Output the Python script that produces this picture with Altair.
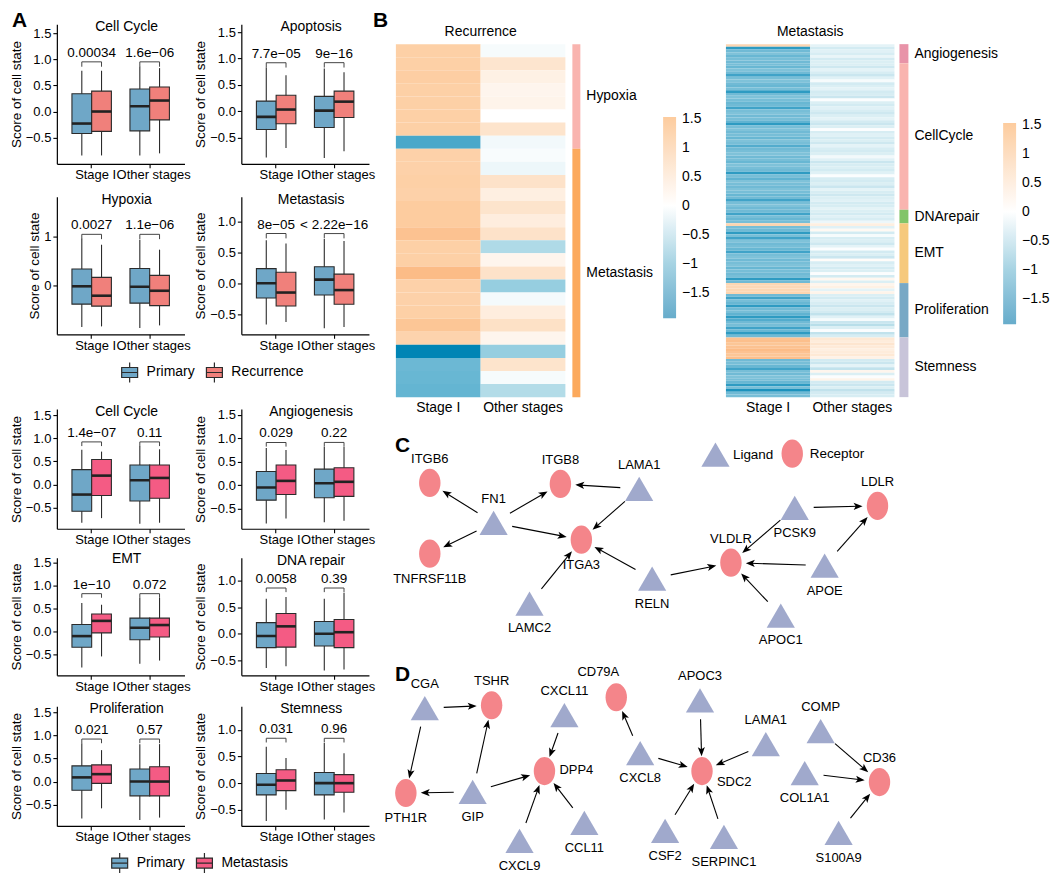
import math
import altair as alt
import pandas as pd

FONT = "Liberation Sans"
NARROW = "Liberation Sans Narrow, Liberation Sans"
INK = "#2b2b2b"
PRIMARY = "#6FA7C7"
RECUR = "#F0807B"
METAS = "#F45B84"

# ---------------- Panel A : box-plot summaries ----------------
groups = ["Stage I", "Other stages"]
# [lower whisker, Q1, median, Q3, upper whisker]
# order: Stage I/Primary, Stage I/second, Other stages/Primary, Other stages/second
rec_cellcycle = [[-0.84, -0.42, -0.23, 0.34, 0.78], [-0.84, -0.38, 0.00, 0.39, 0.78],
                 [-0.84, -0.37, 0.10, 0.43, 0.86], [-0.80, -0.16, 0.21, 0.47, 0.83]]
rec_apoptosis = [[-0.88, -0.35, -0.11, 0.19, 0.83], [-0.70, -0.24, 0.03, 0.30, 0.68],
                 [-0.89, -0.31, 0.01, 0.28, 0.81], [-0.76, -0.12, 0.18, 0.38, 0.74]]
rec_hypoxia = [[-0.83, -0.37, -0.01, 0.34, 0.95], [-0.82, -0.41, -0.20, 0.17, 0.83],
               [-0.85, -0.35, -0.02, 0.35, 0.93], [-0.80, -0.40, -0.10, 0.21, 0.73]]
rec_metastasis = [[-0.67, -0.24, 0.00, 0.24, 0.70], [-0.63, -0.37, -0.15, 0.18, 0.65],
                  [-0.73, -0.19, 0.06, 0.27, 0.72], [-0.71, -0.34, -0.11, 0.15, 0.69]]
met_cellcycle = [[-0.83, -0.58, -0.22, 0.32, 0.75], [-0.73, -0.24, 0.19, 0.54, 0.71],
                 [-0.85, -0.36, 0.09, 0.42, 0.83], [-0.83, -0.30, 0.14, 0.42, 0.76]]
met_angiogenesis = [[-0.82, -0.32, -0.05, 0.29, 0.79], [-0.71, -0.20, 0.09, 0.43, 0.75],
                    [-0.79, -0.27, 0.04, 0.34, 0.82], [-0.76, -0.24, 0.07, 0.37, 0.82]]
met_emt = [[-0.78, -0.34, -0.10, 0.15, 0.62], [-0.54, -0.03, 0.23, 0.38, 0.58],
           [-0.70, -0.18, 0.08, 0.29, 0.73], [-0.63, -0.12, 0.14, 0.29, 0.73]]
met_dnarepair = [[-0.64, -0.26, -0.04, 0.21, 0.66], [-0.61, -0.25, 0.14, 0.38, 0.69],
                 [-0.69, -0.23, 0.00, 0.23, 0.66], [-0.67, -0.26, 0.03, 0.27, 0.77]]
met_proliferation = [[-0.80, -0.19, 0.09, 0.34, 0.83], [-0.58, -0.04, 0.16, 0.36, 0.68],
                     [-0.83, -0.31, 0.00, 0.27, 0.81], [-0.78, -0.31, 0.00, 0.32, 0.81]]
met_stemness = [[-0.71, -0.22, -0.03, 0.18, 0.68], [-0.50, -0.14, 0.05, 0.25, 0.47],
                [-0.68, -0.22, 0.00, 0.20, 0.75], [-0.55, -0.17, 0.00, 0.16, 0.56]]

rec_cellcycle_p = ["0.00034", "1.6e\u221206"]
rec_apoptosis_p = ["7.7e\u221205", "9e\u221216"]
rec_hypoxia_p = ["0.0027", "1.1e\u221206"]
rec_metastasis_p = ["8e\u221205", "< 2.22e\u221216"]
met_cellcycle_p = ["1.4e\u221207", "0.11"]
met_angiogenesis_p = ["0.029", "0.22"]
met_emt_p = ["1e\u221210", "0.072"]
met_dnarepair_p = ["0.0058", "0.39"]
met_proliferation_p = ["0.021", "0.57"]
met_stemness_p = ["0.031", "0.96"]

# ---------------- Panel B : heatmaps ----------------
heat_cols = ["Stage I", "Other stages"]
rec_state_names = ["Hypoxia", "Metastasis"]
rec_state_sizes = [8, 19]
rec_state_colors = ["#F9B4AF", "#FCA95C"]
rec_stage1 = [1.45, 1.45, 1.5, 1.45, 1.45, 1.45, 1.45, -2.05,
              1.4, 1.4, 1.45, 1.4, 1.55, 1.55, 1.7, 1.45, 1.45, 1.8, 1.4, 1.4,
              1.45, 1.65, 1.35, -2.45, -1.75, -1.8, -1.85]
rec_other = [-0.1, 0.8, 0.45, 0.3, 0.35, 0.0, 0.85, -0.15,
             -0.08, -0.2, 0.9, 0.5, 0.85, 0.55, 0.9, -0.9, 0.3, 0.9, -1.2, -0.12,
             0.55, 0.95, 0.3, -1.2, 0.85, -0.1, -0.85]

met_state_names = ["Angiogenesis", "CellCycle", "DNArepair", "EMT", "Proliferation", "Stemness"]
met_state_sizes = [7, 54, 5, 22, 20, 22]
met_state_colors = ["#E893A8", "#F9B4AF", "#82C468", "#F6C97C", "#78A8C5", "#C8C4D9"]
met_stage1_angio = [1.3, -2.2, -1.7, -1.5, -1.8, -1.6, -1.7]
met_stage1_cellcycle = [-1.6, -1.8, -1.5, -1.7, -2.1, -1.6, -1.5, -1.7, -1.8, -1.6,
                        -2.2, -1.7, -1.5, -1.6, -1.8, -1.7, -2.1, -1.6, -1.5, -1.7,
                        -1.6, -1.9, -2.2, -1.6, -1.5, -1.7, -1.6, -1.8, -1.5, -1.6,
                        -2.0, -1.7, -1.6, -1.5, -1.7, -1.6, -1.8, -1.5, -1.6, -1.7,
                        -2.2, -1.6, -1.9, -1.5, -1.6, -1.7, -1.5, -1.6, -1.8, -1.7,
                        -2.1, -1.6, -1.5, -1.7]
met_stage1_dna = [-1.7, -2.1, -1.6, -1.8, -1.6]
met_stage1_emt = [1.3, -1.6, -1.7, -2.2, -1.6, -2.1, -1.5, -1.7, -1.6, -1.8,
                  -2.1, -1.6, -1.5, -1.7, -1.6, -1.5, -1.8, -1.6, -1.7, -1.6, -2.2, -1.7]
met_stage1_prolif = [1.25, 1.2, 1.25, 1.3, -1.7, -2.1, -1.6, -1.8, -2.2, -1.7,
                     -1.6, -1.9, -2.2, -2.0, -1.7, -1.6, -2.1, -1.8, -2.2, -1.7]
met_stage1_stem = [1.7, 1.75, 1.65, 1.7, 1.8, 1.7, 1.65, 1.75, -1.7, -1.6,
                   -1.8, -2.1, -1.6, -1.7, -1.5, -1.6, -1.8, -2.2, -1.6, -2.3, -1.7, -1.6]
met_other_angio = [-0.3, -0.5, -0.35, -0.45, -0.25, -0.5, -0.4]
met_other_cellcycle = [-0.4, -0.55, -0.3, -0.45, -0.6, -0.35, -0.1, -0.5, -0.4, -0.3,
                       -0.5, -0.45, -0.6, -0.05, -0.4, -0.5, -0.35, -0.45, -0.55, -0.4,
                       -0.3, -0.5, -0.6, -0.4, -0.05, -0.45, -0.35, -0.5, -0.4, -0.55,
                       -0.3, -0.45, -0.5, -0.4, -0.15, -0.35, -0.6, -0.45, -0.4, -0.5,
                       -0.35, -0.05, -0.45, -0.5, -0.4, -0.6, -0.3, -0.45, -0.55, -0.4,
                       -0.35, -0.5, -0.45, -0.3]
met_other_dna = [-0.4, -0.5, -0.35, -0.45, -0.2]
met_other_emt = [0.5, -0.35, 0.2, -0.5, -0.1, -0.45, -0.4, -0.55, -0.3, -0.05,
                 -0.5, -0.4, -0.6, 0.1, -0.45, -0.35, -0.5, -0.4, -0.05, -0.5, 0.25, -0.4]
met_other_prolif = [0.3, 0.45, -0.3, 0.35, -0.4, -0.5, -0.35, -0.45, -0.6, -0.4,
                    -0.5, -0.7, -0.35, -0.1, -0.6, -0.8, -0.4, -0.05, -0.7, -0.45]
met_other_stem = [0.7, 0.6, 0.8, 0.65, 0.5, 0.6, 0.7, 0.4, -0.5, -0.6,
                  -0.3, -0.7, 0.3, -0.4, -0.05, 0.35, -0.5, -0.6, -0.4, -0.7, -0.5, -0.45]

legend_ticks = [-1.5, -1.0, -0.5, 0.0, 0.5, 1.0, 1.5]
HEAT_DOMAIN = [-2.45, -1.94, -1.0, 0.0, 1.0, 1.53, 1.9]
HEAT_RANGE = ["#0085B5", "#5DB1D0", "#A6D6E4", "#FFFFFF", "#FDDFC3", "#FDCDA1", "#FBB67E"]
LEG_DOMAIN = [-1.94, -1.0, 0.0, 1.0, 1.53]
LEG_RANGE = ["#67ACCB", "#A6D3E3", "#FFFFFF", "#FDDDC0", "#FDCC9E"]

# ---------------- Panels C / D : networks (layout coordinates) ----------------
c_names = ["ITGB6", "TNFRSF11B", "FN1", "ITGB8", "ITGA3", "LAMA1", "LAMC2", "RELN",
           "VLDLR", "PCSK9", "LDLR", "APOE", "APOC1"]
c_types = ["Receptor", "Receptor", "Ligand", "Receptor", "Receptor", "Ligand", "Ligand",
           "Ligand", "Receptor", "Ligand", "Receptor", "Ligand", "Ligand"]
c_x = [427, 427, 491, 558, 579, 637, 527, 650, 729, 793, 876, 823, 779]
c_y = [482, 553, 522, 483, 539, 488, 603, 578, 562, 507, 505, 565, 615]
c_side = ["above", "below", "above", "above", "below", "above", "below", "below",
          "above", "below", "above", "below", "below"]
c_edges = [("FN1", "ITGB6"), ("FN1", "TNFRSF11B"), ("FN1", "ITGB8"), ("FN1", "ITGA3"),
           ("LAMA1", "ITGB8"), ("LAMA1", "ITGA3"), ("LAMC2", "ITGA3"), ("RELN", "ITGA3"),
           ("RELN", "VLDLR"), ("PCSK9", "VLDLR"), ("PCSK9", "LDLR"), ("APOE", "VLDLR"),
           ("APOE", "LDLR"), ("APOC1", "VLDLR")]

d_names = ["CGA", "TSHR", "PTH1R", "GIP", "CXCL11", "DPP4", "CXCL9", "CCL11", "CD79A",
           "CXCL8", "APOC3", "SDC2", "LAMA1", "CSF2", "SERPINC1", "COMP", "COL1A1",
           "CD36", "S100A9"]
d_types = ["Ligand", "Receptor", "Receptor", "Ligand", "Ligand", "Receptor", "Ligand",
           "Ligand", "Receptor", "Ligand", "Ligand", "Receptor", "Ligand", "Ligand",
           "Ligand", "Ligand", "Ligand", "Receptor", "Ligand"]
d_x = [422, 489, 403, 470, 562, 542, 517, 582, 614, 638, 698, 700, 764, 663, 722, 819, 803, 878, 837]
d_y = [708, 705, 793, 792, 715, 771, 841, 823, 697, 753, 700, 771, 744, 831, 837, 731, 773, 782, 833]
d_side = ["above", "above", "below", "below", "above", "right", "below", "below", "aboveleft",
          "below", "above", "rightlow", "above", "below", "below", "above", "below", "above", "below"]
d_edges = [("CGA", "TSHR"), ("CGA", "PTH1R"), ("GIP", "PTH1R"), ("GIP", "TSHR"), ("GIP", "DPP4"),
           ("CXCL11", "DPP4"), ("CXCL9", "DPP4"), ("CCL11", "DPP4"), ("CXCL8", "CD79A"),
           ("CXCL8", "SDC2"), ("APOC3", "SDC2"), ("LAMA1", "SDC2"), ("CSF2", "SDC2"),
           ("SERPINC1", "SDC2"), ("COMP", "CD36"), ("COL1A1", "CD36"), ("S100A9", "CD36")]

# ======================================================================
# With flush bounds a nested concat counts as size 0, so its offset equals the spacing.
RES = dict(fill="independent", color="independent", shape="independent",
           xOffset="independent", x="independent", y="independent")


def hc(*charts, spacing):
    return alt.hconcat(*charts, spacing=spacing, bounds="flush").resolve_scale(**RES)


def vc(*charts, spacing):
    return alt.vconcat(*charts, spacing=spacing, bounds="flush").resolve_scale(**RES)


BOX_W = 128
PI, PO = 0.32, 0.26
OFFBAND = BOX_W / (2 - PI + 2 * PO) * (1 - PI) / 2
BOXPATH = "M-0.8,-0.5H0.8V0.5H-0.8Z M-0.8,0H0.8 M0,-0.5V-1 M0,0.5V1"


def box_panel(stats, pvals, title, dom, ticks, fmt, cond2, color2, height, legend=None):
    conds = ["Primary", cond2]
    rows = []
    i = 0
    for g in groups:
        for c in conds:
            lo, q1, md, q3, hi = stats[i]
            i += 1
            rows.append({"group": g, "cond": c, "lo": lo, "q1": q1, "med": md, "q3": q3, "hi": hi})
    df = pd.DataFrame(rows)
    top = df["hi"].max() + 0.09
    leg = 0.035 * (dom[1] - dom[0])
    bdf = pd.DataFrame({"group": groups, "by": [top, top], "label": pvals})
    ldf = pd.DataFrame([{"group": g, "cond": c, "by": top, "by2": top - leg}
                        for g in groups for c in conds])

    X = alt.X("group:N", sort=groups,
              scale=alt.Scale(domain=groups, paddingInner=PI, paddingOuter=PO),
              axis=alt.Axis(title=None, labelAngle=0, labelFontSize=13, labelPadding=1,
                            tickSize=4, labelOffset=4))
    XO = alt.XOffset("cond:N", sort=conds,
                     scale=alt.Scale(domain=conds, paddingInner=0, paddingOuter=0))
    ysc = alt.Scale(domain=dom, nice=False, zero=False)
    yax = alt.Axis(title="Score of cell state", values=ticks, format=fmt, labelFontSize=13,
                   titleFontSize=13.5, tickSize=4, titlePadding=2, labelPadding=2)

    def Y(f):
        return alt.Y(f, scale=ysc, axis=yax)

    base = alt.Chart(df)
    whisk = base.mark_rule(color=INK, strokeWidth=1.1).encode(
        x=X, xOffset=XO, y=Y("lo:Q"), y2="hi:Q")
    box = base.mark_bar(stroke=INK, strokeWidth=1.1, opacity=1).encode(
        x=X, xOffset=XO, y=Y("q1:Q"), y2="q3:Q",
        fill=alt.Fill("cond:N", scale=alt.Scale(domain=conds, range=[PRIMARY, color2]),
                      legend=legend))
    med = base.mark_tick(color="#222222", thickness=2.6, size=OFFBAND, opacity=1).encode(
        x=X, xOffset=XO, y=Y("med:Q"))
    legs = alt.Chart(ldf).mark_rule(color="#444444", strokeWidth=1).encode(
        x=X, xOffset=XO, y=Y("by2:Q"), y2="by:Q")
    bline = alt.Chart(bdf).mark_tick(color="#444444", thickness=1, size=OFFBAND, opacity=1).encode(
        x=X, y=Y("by:Q"))
    btext = alt.Chart(bdf).mark_text(baseline="bottom", dy=-2, fontSize=13.5, font=FONT,
                                     color="black").encode(x=X, y=Y("by:Q"), text="label:N")
    return alt.layer(whisk, box, med, legs, bline, btext).properties(
        width=BOX_W, height=height,
        title=alt.TitleParams(title, fontSize=14, fontWeight="normal", font=FONT,
                              color="black", offset=-10, dx=6, anchor="middle", frame="group"))


def box_legend(x, y):
    return alt.Legend(orient="none", legendX=x, legendY=y, direction="horizontal", title=None,
                      symbolType=BOXPATH, symbolSize=400, symbolStrokeColor=INK,
                      symbolStrokeWidth=1.2, labelFontSize=14, labelFont=FONT,
                      labelOffset=6, columnPadding=8, padding=0)


T15 = [-0.5, 0.0, 0.5, 1.0, 1.5]
T10 = [-0.5, 0.0, 0.5, 1.0]

cc_r = box_panel(rec_cellcycle, rec_cellcycle_p, "Cell Cycle", [-1.0, 1.67], T15, ".1f",
                 "Recurrence", RECUR, 140)
apo_r = box_panel(rec_apoptosis, rec_apoptosis_p, "Apoptosis", [-1.0, 1.65], T15, ".1f",
                  "Recurrence", RECUR, 140)
hyp_r = box_panel(rec_hypoxia, rec_hypoxia_p, "Hypoxia", [-0.98, 1.8], [0, 1], "d",
                  "Recurrence", RECUR, 138, legend=box_legend(62, 165))
met_r = box_panel(rec_metastasis, rec_metastasis_p, "Metastasis", [-0.83, 1.41], T10, ".1f",
                  "Recurrence", RECUR, 138)
cc_m = box_panel(met_cellcycle, met_cellcycle_p, "Cell Cycle", [-0.96, 1.63], T15, ".1f",
                 "Metastasis", METAS, 120)
ang_m = box_panel(met_angiogenesis, met_angiogenesis_p, "Angiogenesis", [-0.93, 1.62], T15,
                  ".1f", "Metastasis", METAS, 120)
emt_m = box_panel(met_emt, met_emt_p, "EMT", [-0.95, 1.6], T15, ".1f", "Metastasis", METAS, 118)
dna_m = box_panel(met_dnarepair, met_dnarepair_p, "DNA repair", [-0.78, 1.43], T10, ".1f",
                  "Metastasis", METAS, 118)
pro_m = box_panel(met_proliferation, met_proliferation_p, "Proliferation", [-0.96, 1.63], T15,
                  ".1f", "Metastasis", METAS, 120, legend=box_legend(52, 146))
stem_m = box_panel(met_stemness, met_stemness_p, "Stemness", [-0.8, 1.44], T10, ".1f",
                   "Metastasis", METAS, 120)

# row tops (page px): 22, 195 | 408, 557, 706
A_top = vc(hc(cc_r, apo_r, spacing=57), hc(hyp_r, met_r, spacing=57), spacing=173)
A_bot = vc(hc(cc_m, ang_m, spacing=57), hc(emt_m, dna_m, spacing=57),
           hc(pro_m, stem_m, spacing=57), spacing=149)
A_col = vc(A_top, A_bot, spacing=386)


# ---------------- heatmaps ----------------
def heat_panel(stage1, other, title, width, height, lx, ly):
    n = len(stage1)
    df = pd.DataFrame({"row": list(range(n)) * 2,
                       "col": ["Stage I"] * n + ["Other stages"] * n,
                       "v": stage1 + other})
    df["lv"] = df["v"].clip(LEG_DOMAIN[0], LEG_DOMAIN[-1])
    X = alt.X("col:N", sort=heat_cols, scale=alt.Scale(domain=heat_cols, paddingInner=0, paddingOuter=0),
              axis=alt.Axis(title=None, labelAngle=0, domain=False, ticks=False,
                            labelFontSize=14, labelPadding=3))
    Y = alt.Y("row:O", axis=None, scale=alt.Scale(paddingInner=0, paddingOuter=0))
    rect = alt.Chart(df).mark_rect(strokeWidth=0).encode(
        x=X, y=Y,
        fill=alt.Fill("v:Q", scale=alt.Scale(domain=HEAT_DOMAIN, range=HEAT_RANGE,
                                             interpolate="rgb"), legend=None))
    leg = alt.Chart(df).mark_point(size=0, filled=True, opacity=1).encode(
        x=X, y=Y,
        color=alt.Color("lv:Q", scale=alt.Scale(domain=LEG_DOMAIN, range=LEG_RANGE,
                                                interpolate="rgb"),
                        legend=alt.Legend(orient="none", legendX=lx, legendY=ly,
                                          direction="vertical", title=None,
                                          gradientLength=202, gradientThickness=13,
                                          gradientStrokeWidth=0, values=legend_ticks,
                                          format=".1~f", labelFontSize=14, labelFont=FONT,
                                          labelColor="black", labelOffset=6, padding=0)))
    return alt.layer(rect, leg).properties(
        width=width, height=height,
        title=alt.TitleParams(title, fontSize=14, fontWeight="normal", font=FONT,
                              color="black", offset=5, anchor="middle", frame="group"))


def annot_panel(names, sizes, colors, width, height):
    n = sum(sizes)
    r0, acc = [], 0
    for s in sizes:
        r0.append(acc)
        acc += s
    df = pd.DataFrame({"state": names, "r0": r0, "r1": [a + s for a, s in zip(r0, sizes)]})
    df["mid"] = (df["r0"] + df["r1"]) / 2
    ys = alt.Scale(domain=[0, n], nice=False, zero=False, reverse=True)
    bar = alt.Chart(df).mark_rect(strokeWidth=0).encode(
        y=alt.Y("r0:Q", scale=ys, axis=None), y2="r1:Q",
        fill=alt.Fill("state:N", scale=alt.Scale(domain=names, range=colors), legend=None))
    txt = alt.Chart(df).mark_text(align="left", baseline="middle", fontSize=14, font=FONT,
                                  color="black").encode(
        y=alt.Y("mid:Q", scale=ys, axis=None), x=alt.value(width + 6), text="state:N")
    return alt.layer(bar, txt).properties(width=width, height=height)


heat1 = heat_panel(rec_stage1, rec_other, "Recurrence", 170, 354, 268, 73)
annot1 = annot_panel(rec_state_names, rec_state_sizes, rec_state_colors, 8, 354)
met_stage1 = (met_stage1_angio + met_stage1_cellcycle + met_stage1_dna + met_stage1_emt
              + met_stage1_prolif + met_stage1_stem)
met_other = (met_other_angio + met_other_cellcycle + met_other_dna + met_other_emt
             + met_other_prolif + met_other_stem)
heat2 = heat_panel(met_stage1, met_other, "Metastasis", 169, 354, 278, 79)
annot2 = annot_panel(met_state_names, met_state_sizes, met_state_colors, 9, 354)
# heat1 at x 393, heat2 at x 724
B_row = hc(hc(heat1, annot1, spacing=7), hc(heat2, annot2, spacing=5), spacing=331)

# ---------------- networks ----------------
TRI = "M0,-0.86L1,0.86L-1,0.86Z"
ELL = "M0,-1A0.76,1 0 1,1 0,1A0.76,1 0 1,1 0,-1Z"
ARROW = "M0,-1L0.75,0.9L0,0.45L-0.75,0.9Z"
CD_X = [393, 1043]
CD_Y = [406, 868]

node_rows = []
for pfx, names, types, xs, ys_, sides in [("C", c_names, c_types, c_x, c_y, c_side),
                                           ("D", d_names, d_types, d_x, d_y, d_side)]:
    for nm, tp, xx, yy, sd in zip(names, types, xs, ys_, sides):
        node_rows.append({"id": pfx + nm, "name": nm, "type": tp, "x": xx, "y": yy, "side": sd})
nodes = pd.DataFrame(node_rows)
pos = {r["id"]: (r["x"], r["y"]) for r in node_rows}

START_GAP, END_GAP, HEAD = 19, 15, 4.7
edge_rows = []
for pfx, edges in [("C", c_edges), ("D", d_edges)]:
    for s, t in edges:
        x1, y1 = pos[pfx + s]
        x2, y2 = pos[pfx + t]
        L = math.hypot(x2 - x1, y2 - y1)
        ux, uy = (x2 - x1) / L, (y2 - y1) / L
        tipx, tipy = x2 - ux * END_GAP, y2 - uy * END_GAP
        edge_rows.append({
            "x": x1 + ux * START_GAP, "y": y1 + uy * START_GAP,
            "x2": tipx - ux * 4, "y2": tipy - uy * 4,
            "ax": tipx - ux * HEAD, "ay": tipy - uy * HEAD,
            "angle": (math.degrees(math.atan2(ux, -uy)) + 360) % 360})
edges_df = pd.DataFrame(edge_rows)

nx = alt.Scale(domain=CD_X, nice=False, zero=False)
ny = alt.Scale(domain=CD_Y, nice=False, zero=False, reverse=True)
NX = lambda f: alt.X(f, scale=nx, axis=None)
NY = lambda f: alt.Y(f, scale=ny, axis=None)

e_lines = alt.Chart(edges_df).mark_rule(color="black", strokeWidth=1.1).encode(
    x=NX("x:Q"), y=NY("y:Q"), x2="x2:Q", y2="y2:Q")
e_heads = alt.Chart(edges_df).mark_point(shape=ARROW, filled=True, color="black", size=90,
                                         opacity=1, strokeWidth=0).encode(
    x=NX("ax:Q"), y=NY("ay:Q"), angle=alt.Angle("angle:Q", scale=None))
net_leg = alt.Legend(orient="none", legendX=306, legendY=32, direction="horizontal", title=None,
                     symbolSize=800, labelFontSize=13.5, labelFont=NARROW, labelColor="black",
                     labelOffset=3, columnPadding=4, symbolStrokeWidth=0, padding=0)
n_marks = alt.Chart(nodes).mark_point(filled=True, opacity=1, size=800, strokeWidth=0).encode(
    x=NX("x:Q"), y=NY("y:Q"),
    shape=alt.Shape("type:N", scale=alt.Scale(domain=["Ligand", "Receptor"], range=[TRI, ELL]),
                    legend=net_leg),
    fill=alt.Fill("type:N", scale=alt.Scale(domain=["Ligand", "Receptor"],
                                            range=["#A0A9CC", "#F4858A"]), legend=net_leg))
lab_layers = []
for side, kw in [("above", dict(dy=-24)), ("below", dict(dy=25)),
                 ("aboveleft", dict(dy=-25, dx=-18)),
                 ("right", dict(dx=15, dy=-1, align="left")),
                 ("rightlow", dict(dx=15, dy=11, align="left"))]:
    lab_layers.append(alt.Chart(nodes[nodes["side"] == side]).mark_text(
        fontSize=13, font=NARROW, color="black", baseline="middle", **kw).encode(
        x=NX("x:Q"), y=NY("y:Q"), text="name:N"))
letters = []
for t, yv in [("C", 28), ("D", 258)]:
    letters.append(alt.Chart(pd.DataFrame({"t": [t]})).mark_text(
        fontSize=21, fontWeight="bold", font=FONT, align="left", baseline="top",
        color="black").encode(x=alt.value(-1), y=alt.value(yv), text="t:N"))
CD = alt.layer(e_lines, e_heads, n_marks, *lab_layers, *letters).properties(
    width=CD_X[1] - CD_X[0], height=CD_Y[1] - CD_Y[0])

# small holder at (393, 22) that carries the panel letters A and B
letter_df = pd.DataFrame({"t": ["A", "B"]})
spacer = alt.layer(
    alt.Chart(letter_df[letter_df["t"] == "A"]).mark_text(
        fontSize=21, fontWeight="bold", font=FONT, align="left", baseline="top",
        color="black").encode(x=alt.value(-385), y=alt.value(-14), text="t:N"),
    alt.Chart(letter_df[letter_df["t"] == "B"]).mark_text(
        fontSize=21, fontWeight="bold", font=FONT, align="left", baseline="top",
        color="black").encode(x=alt.value(-23), y=alt.value(-14), text="t:N"),
).properties(width=10, height=10)

# right column: holder at y 22, heatmaps at y 42, networks at y 406
right_col = vc(vc(spacer, B_row, spacing=10), CD, spacing=384)

chart = hc(A_col, right_col, spacing=340).properties(padding=0)
chart = chart.configure_view(stroke="transparent").configure_axis(
    grid=False, domainColor="black", tickColor="black", labelColor="black",
    titleColor="black", labelFont=FONT, titleFont=FONT, titleFontWeight="normal",
    domainWidth=1.2, tickWidth=1.1).configure_legend(
    labelFont=FONT, labelColor="black").configure_text(font=FONT)

chart.save("out.html", embed_options={"renderer": "svg", "actions": False})
